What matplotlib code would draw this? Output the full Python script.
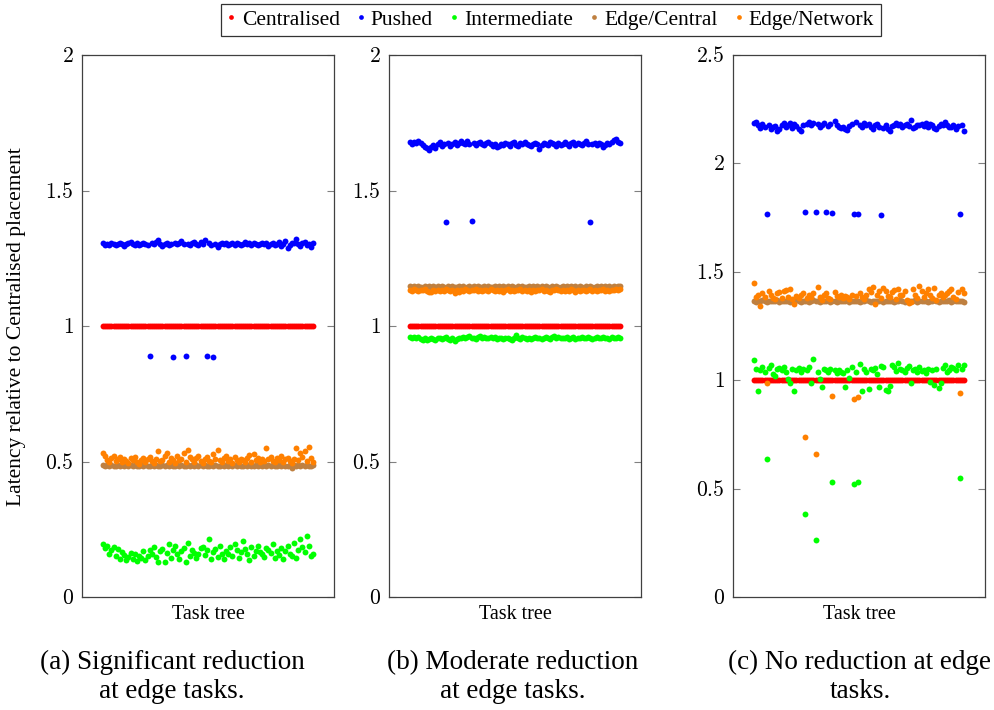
import numpy as np
import matplotlib
matplotlib.use('Agg')
import matplotlib.pyplot as plt
from matplotlib.ticker import FuncFormatter
from matplotlib.lines import Line2D

plt.rcParams['font.family'] = ['Liberation Serif', 'DejaVu Serif']
plt.rcParams['mathtext.fontset'] = 'cm'

N = 100
TASKS = list(range(1, N + 1))

SERIES = ['Centralised', 'Pushed', 'Intermediate', 'Edge/Central', 'Edge/Network']
COLORS = ['#ff0000', '#0000ff', '#00ff00', '#bf8040', '#ff8000']

# ---- (a) significant reduction at edge tasks
CENT_A = [1.0] * N
PUSHED_A = [1.305, 1.300, 1.302, 1.298, 1.306, 1.303, 1.299, 1.304, 1.308, 1.301,
            1.297, 1.303, 1.306, 1.309, 1.302, 1.300, 1.305, 1.298, 1.303, 1.307,
            1.302, 1.300, 0.890, 1.305, 1.304, 1.310, 1.318, 1.301, 1.296, 1.303,
            1.305, 1.299, 1.304, 0.885, 1.306, 1.302, 1.308, 1.314, 1.301, 0.890,
            1.303, 1.300, 1.307, 1.311, 1.304, 1.298, 1.309, 1.302, 1.316, 0.890,
            1.305, 1.300, 0.885, 1.302, 1.291, 1.304, 1.308, 1.301, 1.306, 1.299,
            1.303, 1.305, 1.300, 1.307, 1.302, 1.298, 1.304, 1.309, 1.301, 1.305,
            1.300, 1.306, 1.303, 1.298, 1.304, 1.308, 1.301, 1.305, 1.296, 1.302,
            1.307, 1.299, 1.304, 1.310, 1.297, 1.303, 1.312, 1.286, 1.298, 1.305,
            1.308, 1.320, 1.301, 1.296, 1.306, 1.311, 1.299, 1.303, 1.293, 1.307]
INTER_A = [0.195, 0.180, 0.188, 0.160, 0.172, 0.185, 0.150, 0.176, 0.142, 0.165,
           0.155, 0.138, 0.148, 0.162, 0.140, 0.158, 0.132, 0.150, 0.145, 0.168,
           0.138, 0.152, 0.175, 0.160, 0.185, 0.148, 0.130, 0.170, 0.178, 0.128,
           0.162, 0.195, 0.145, 0.175, 0.190, 0.158, 0.140, 0.168, 0.182, 0.130,
           0.200, 0.150, 0.175, 0.162, 0.145, 0.160, 0.180, 0.186, 0.155, 0.172,
           0.215, 0.140, 0.165, 0.178, 0.148, 0.188, 0.158, 0.142, 0.170, 0.160,
           0.185, 0.150, 0.195, 0.172, 0.145, 0.165, 0.208, 0.178, 0.160, 0.138,
           0.185, 0.152, 0.170, 0.190, 0.165, 0.158, 0.148, 0.182, 0.175, 0.162,
           0.195, 0.145, 0.170, 0.155, 0.180, 0.140, 0.168, 0.188, 0.160, 0.150,
           0.200, 0.145, 0.175, 0.215, 0.185, 0.165, 0.225, 0.190, 0.150, 0.160]
EC_A = [0.487, 0.484, 0.486, 0.483, 0.488, 0.485, 0.482, 0.487, 0.484, 0.486,
        0.485, 0.488, 0.483, 0.486, 0.484, 0.487, 0.485, 0.482, 0.486, 0.484,
        0.488, 0.485, 0.483, 0.487, 0.484, 0.486, 0.482, 0.485, 0.488, 0.484,
        0.486, 0.483, 0.487, 0.485, 0.484, 0.488, 0.482, 0.486, 0.485, 0.483,
        0.487, 0.484, 0.486, 0.485, 0.488, 0.483, 0.486, 0.484, 0.487, 0.485,
        0.482, 0.486, 0.484, 0.488, 0.485, 0.483, 0.487, 0.484, 0.486, 0.485,
        0.488, 0.483, 0.486, 0.484, 0.487, 0.485, 0.482, 0.486, 0.484, 0.488,
        0.485, 0.483, 0.487, 0.484, 0.486, 0.485, 0.488, 0.483, 0.486, 0.484,
        0.487, 0.485, 0.482, 0.486, 0.484, 0.488, 0.485, 0.483, 0.487, 0.476,
        0.486, 0.485, 0.488, 0.483, 0.486, 0.484, 0.487, 0.485, 0.484, 0.486]
EN_A = [0.530, 0.522, 0.505, 0.497, 0.512, 0.520, 0.501, 0.508, 0.515, 0.498,
        0.510, 0.503, 0.496, 0.512, 0.505, 0.518, 0.500, 0.492, 0.507, 0.514,
        0.499, 0.509, 0.516, 0.503, 0.495, 0.511, 0.538, 0.502, 0.507, 0.520,
        0.531, 0.498, 0.513, 0.506, 0.495, 0.521, 0.504, 0.510, 0.531, 0.500,
        0.542, 0.515, 0.509, 0.497, 0.512, 0.520, 0.501, 0.494, 0.508, 0.517,
        0.503, 0.499, 0.526, 0.510, 0.543, 0.505, 0.497, 0.513, 0.521, 0.502,
        0.509, 0.496, 0.515, 0.504, 0.500, 0.511, 0.507, 0.498, 0.512, 0.524,
        0.500, 0.529, 0.506, 0.514, 0.498, 0.510, 0.503, 0.550, 0.509, 0.516,
        0.501, 0.497, 0.512, 0.505, 0.521, 0.499, 0.508, 0.514, 0.503, 0.496,
        0.510, 0.549, 0.505, 0.533, 0.518, 0.540, 0.501, 0.554, 0.512, 0.500]

# ---- (b) moderate reduction at edge tasks
CENT_B = [1.0] * N
PUSHED_B = [1.678, 1.672, 1.680, 1.676, 1.683, 1.674, 1.669, 1.662, 1.655, 1.648,
            1.660, 1.668, 1.658, 1.673, 1.680, 1.666, 1.670, 1.382, 1.675, 1.664,
            1.672, 1.679, 1.668, 1.674, 1.681, 1.676, 1.670, 1.683, 1.673, 1.387,
            1.677, 1.669, 1.674, 1.680, 1.671, 1.667, 1.675, 1.678, 1.672, 1.664,
            1.670, 1.659, 1.666, 1.673, 1.668, 1.676, 1.671, 1.663, 1.674, 1.679,
            1.669, 1.666, 1.675, 1.672, 1.680, 1.670, 1.668, 1.664, 1.673, 1.677,
            1.671, 1.652, 1.669, 1.676, 1.673, 1.667, 1.679, 1.674, 1.670, 1.666,
            1.675, 1.668, 1.672, 1.680, 1.671, 1.663, 1.674, 1.678, 1.669, 1.676,
            1.672, 1.667, 1.675, 1.681, 1.673, 1.383, 1.670, 1.677, 1.668, 1.674,
            1.671, 1.659, 1.668, 1.676, 1.673, 1.680, 1.685, 1.690, 1.679, 1.674]
INTER_B = [0.960, 0.957, 0.961, 0.955, 0.958, 0.952, 0.950, 0.954, 0.949, 0.953,
           0.956, 0.951, 0.948, 0.954, 0.957, 0.952, 0.955, 0.959, 0.953, 0.950,
           0.955, 0.944, 0.952, 0.957, 0.954, 0.960, 0.956, 0.958, 0.962, 0.955,
           0.957, 0.953, 0.959, 0.962, 0.956, 0.960, 0.954, 0.957, 0.961, 0.955,
           0.958, 0.952, 0.956, 0.954, 0.951, 0.955, 0.957, 0.953, 0.949, 0.955,
           0.966, 0.956, 0.952, 0.958, 0.954, 0.951, 0.957, 0.953, 0.955, 0.959,
           0.954, 0.957, 0.953, 0.956, 0.960, 0.955, 0.952, 0.958, 0.962, 0.956,
           0.959, 0.954, 0.957, 0.955, 0.960, 0.953, 0.956, 0.958, 0.952, 0.957,
           0.955, 0.961, 0.954, 0.957, 0.959, 0.955, 0.952, 0.957, 0.960, 0.954,
           0.956, 0.959, 0.955, 0.957, 0.953, 0.958, 0.955, 0.957, 0.960, 0.956]
EC_B = [1.147, 1.144, 1.146, 1.143, 1.148, 1.145, 1.142, 1.147, 1.144, 1.146,
        1.145, 1.148, 1.143, 1.146, 1.144, 1.147, 1.145, 1.142, 1.146, 1.144,
        1.148, 1.145, 1.143, 1.147, 1.144, 1.146, 1.142, 1.145, 1.148, 1.144,
        1.146, 1.143, 1.147, 1.145, 1.144, 1.148, 1.142, 1.146, 1.145, 1.143,
        1.147, 1.144, 1.146, 1.145, 1.148, 1.143, 1.146, 1.144, 1.147, 1.145,
        1.142, 1.146, 1.144, 1.148, 1.145, 1.143, 1.147, 1.144, 1.146, 1.145,
        1.148, 1.143, 1.146, 1.144, 1.147, 1.145, 1.142, 1.146, 1.144, 1.148,
        1.145, 1.143, 1.147, 1.144, 1.146, 1.145, 1.148, 1.143, 1.146, 1.144,
        1.147, 1.145, 1.142, 1.146, 1.144, 1.148, 1.145, 1.143, 1.147, 1.144,
        1.146, 1.145, 1.148, 1.143, 1.146, 1.144, 1.147, 1.145, 1.149, 1.148]
EN_B = [1.134, 1.130, 1.136, 1.132, 1.129, 1.133, 1.131, 1.135, 1.130, 1.127,
        1.125, 1.131, 1.129, 1.134, 1.128, 1.133, 1.130, 1.136, 1.132, 1.129,
        1.134, 1.120, 1.131, 1.127, 1.133, 1.130, 1.135, 1.132, 1.129, 1.134,
        1.131, 1.136, 1.130, 1.133, 1.128, 1.134, 1.131, 1.129, 1.135, 1.132,
        1.130, 1.134, 1.128, 1.133, 1.126, 1.131, 1.135, 1.130, 1.133, 1.129,
        1.134, 1.131, 1.136, 1.128, 1.133, 1.130, 1.134, 1.127, 1.132, 1.129,
        1.134, 1.131, 1.135, 1.129, 1.133, 1.130, 1.127, 1.134, 1.131, 1.136,
        1.132, 1.129, 1.134, 1.130, 1.133, 1.128, 1.135, 1.131, 1.126, 1.133,
        1.130, 1.134, 1.131, 1.128, 1.133, 1.136, 1.130, 1.134, 1.129, 1.132,
        1.131, 1.135, 1.129, 1.133, 1.130, 1.134, 1.131, 1.136, 1.133, 1.135]

# ---- (c) no reduction at edge tasks
CENT_C = [1.0] * N
PUSHED_C = [2.185, 2.190, 2.178, 2.165, 2.180, 2.170, 1.768, 2.175, 2.160, 2.168,
            2.172, 2.150, 2.158, 2.176, 2.185, 2.170, 2.178, 2.188, 2.165, 2.180,
            2.172, 2.160, 2.150, 2.175, 1.775, 2.182, 2.190, 2.178, 2.185, 1.775,
            2.180, 2.168, 2.176, 2.185, 1.775, 2.173, 2.182, 1.770, 2.195, 2.178,
            2.168, 2.165, 2.170, 2.160, 2.155, 2.172, 2.180, 1.768, 2.190, 1.765,
            2.175, 2.170, 2.185, 2.178, 2.182, 2.168, 2.160, 2.175, 2.180, 2.170,
            1.762, 2.165, 2.178, 2.160, 2.150, 2.172, 2.176, 2.185, 2.178, 2.180,
            2.168, 2.175, 2.182, 2.173, 2.200, 2.165, 2.170, 2.178, 2.175, 2.180,
            2.172, 2.185, 2.168, 2.180, 2.176, 2.165, 2.160, 2.173, 2.182, 2.178,
            2.190, 2.175, 2.170, 2.168, 2.178, 2.160, 2.172, 1.768, 2.175, 2.150]
INTER_C = [1.095, 1.050, 0.948, 1.045, 1.060, 1.040, 0.637, 1.055, 1.070, 1.030,
           1.020, 1.050, 1.058, 1.045, 1.062, 1.040, 1.005, 0.985, 1.050, 0.950,
           1.045, 1.055, 1.040, 1.050, 0.383, 1.048, 1.060, 0.985, 1.100, 0.263,
           1.040, 1.005, 0.970, 1.052, 1.045, 1.038, 1.050, 0.530, 1.045, 1.032,
           1.048, 1.040, 1.035, 0.970, 1.045, 1.012, 1.060, 0.520, 1.040, 0.530,
           1.075, 0.950, 1.050, 1.040, 0.960, 1.052, 1.045, 1.058, 1.030, 0.970,
           1.065, 1.060, 0.955, 0.950, 0.975, 1.070, 1.060, 1.042, 1.078, 1.050,
           1.045, 1.040, 1.055, 1.065, 0.985, 1.045, 1.050, 1.038, 1.060, 1.042,
           1.048, 1.035, 1.052, 0.990, 1.045, 0.980, 1.050, 0.965, 0.985, 1.058,
           1.070, 1.040, 1.045, 1.062, 1.055, 1.048, 1.068, 0.549, 1.050, 1.070]
EC_C = [1.366, 1.363, 1.367, 1.364, 1.368, 1.365, 1.362, 1.366, 1.364, 1.367,
        1.365, 1.368, 1.363, 1.366, 1.364, 1.367, 1.365, 1.362, 1.366, 1.364,
        1.368, 1.365, 1.363, 1.367, 1.364, 1.366, 1.362, 1.365, 1.368, 1.364,
        1.366, 1.363, 1.367, 1.365, 1.364, 1.368, 1.362, 1.366, 1.365, 1.363,
        1.367, 1.364, 1.366, 1.365, 1.368, 1.363, 1.366, 1.364, 1.367, 1.365,
        1.362, 1.366, 1.364, 1.368, 1.365, 1.363, 1.367, 1.364, 1.366, 1.365,
        1.368, 1.363, 1.366, 1.364, 1.367, 1.365, 1.362, 1.366, 1.364, 1.368,
        1.365, 1.363, 1.367, 1.364, 1.366, 1.365, 1.368, 1.363, 1.366, 1.364,
        1.367, 1.365, 1.362, 1.366, 1.364, 1.368, 1.365, 1.363, 1.367, 1.364,
        1.366, 1.365, 1.368, 1.363, 1.366, 1.364, 1.367, 1.365, 1.364, 1.362]
EN_C = [1.450, 1.385, 1.395, 1.340, 1.400, 1.385, 0.987, 1.410, 1.395, 1.380,
        1.375, 1.400, 1.405, 1.380, 1.410, 1.415, 1.385, 1.420, 1.375, 1.350,
        1.390, 1.380, 1.395, 1.400, 0.738, 1.380, 1.395, 1.385, 1.400, 0.660,
        1.430, 1.385, 1.370, 1.395, 1.400, 1.380, 1.375, 0.927, 1.405, 1.390,
        1.385, 1.395, 1.380, 1.390, 1.385, 1.375, 1.395, 0.913, 1.390, 0.922,
        1.400, 1.385, 1.375, 1.395, 1.420, 1.405, 1.430, 1.350, 1.395, 1.410,
        1.380, 1.425, 1.410, 1.390, 1.385, 1.405, 1.415, 1.375, 1.420, 1.395,
        1.395, 1.410, 1.370, 1.355, 1.360, 1.420, 1.395, 1.380, 1.435, 1.410,
        1.385, 1.400, 1.420, 1.395, 1.380, 1.425, 1.370, 1.395, 1.400, 1.385,
        1.395, 1.400, 1.410, 1.420, 1.385, 1.375, 1.405, 0.940, 1.420, 1.400]

PANELS = [
    ([CENT_A, PUSHED_A, INTER_A, EC_A, EN_A], 2.0, [0, 0.5, 1, 1.5, 2],
     '(a) Significant reduction\nat edge tasks.'),
    ([CENT_B, PUSHED_B, INTER_B, EC_B, EN_B], 2.0, [0, 0.5, 1, 1.5, 2],
     '(b) Moderate reduction\nat edge tasks.'),
    ([CENT_C, PUSHED_C, INTER_C, EC_C, EN_C], 2.5, [0, 0.5, 1, 1.5, 2, 2.5],
     '(c) No reduction at edge\ntasks.'),
]
AX_LEFT = [82, 389, 733]
CAPTION_X = [172, 513, 860]

W, H = 994, 710
fig = plt.figure(figsize=(W / 100, H / 100), dpi=100)


def fmt(v, _):
    return '$%g$' % v


for i, (series, ymax, ticks, caption) in enumerate(PANELS):
    ax = fig.add_axes([AX_LEFT[i] / W, 1 - 597 / H, 252 / W, 542 / H])
    for vals, col in zip(series, COLORS):
        ax.scatter(TASKS, vals, s=18, color=col, linewidths=0, zorder=2)
    ax.set_xlim(-8.9, 109.9)
    ax.set_ylim(0, ymax)
    ax.set_yticks(ticks)
    ax.yaxis.set_major_formatter(FuncFormatter(fmt))
    ax.set_xticks([])
    ax.tick_params(axis='y', direction='in', length=5, width=0.8, color='#808080',
                   labelsize=15.5, left=True, right=True, pad=6)
    for sp in ax.spines.values():
        sp.set_color('#404040')
        sp.set_linewidth(0.9)
    ax.set_xlabel('Task tree', fontsize=14.5, labelpad=6)
    fig.text(CAPTION_X[i] / W, 1 - 677 / H, caption, ha='center', va='center',
             multialignment='center', fontsize=19.5, linespacing=1.2)

fig.text(17 / W, 1 - 327 / H, 'Latency relative to Centralised placement',
         rotation=90, ha='center', va='center', fontsize=15.5)

handles = [Line2D([], [], marker='o', linestyle='', markersize=3.4,
                  markerfacecolor=c, markeredgewidth=0, label=l)
           for c, l in zip(COLORS, SERIES)]
leg = fig.legend(handles=handles, loc='center', bbox_to_anchor=(551 / W, 1 - 20 / H),
                 ncol=5, fontsize=15.5, frameon=True, fancybox=False,
                 handlelength=0.35, handletextpad=0.3, columnspacing=0.8,
                 borderpad=0.3, borderaxespad=0)
leg.get_frame().set_edgecolor('#000000')
leg.get_frame().set_linewidth(0.9)

fig.savefig('out.png', dpi=100)
